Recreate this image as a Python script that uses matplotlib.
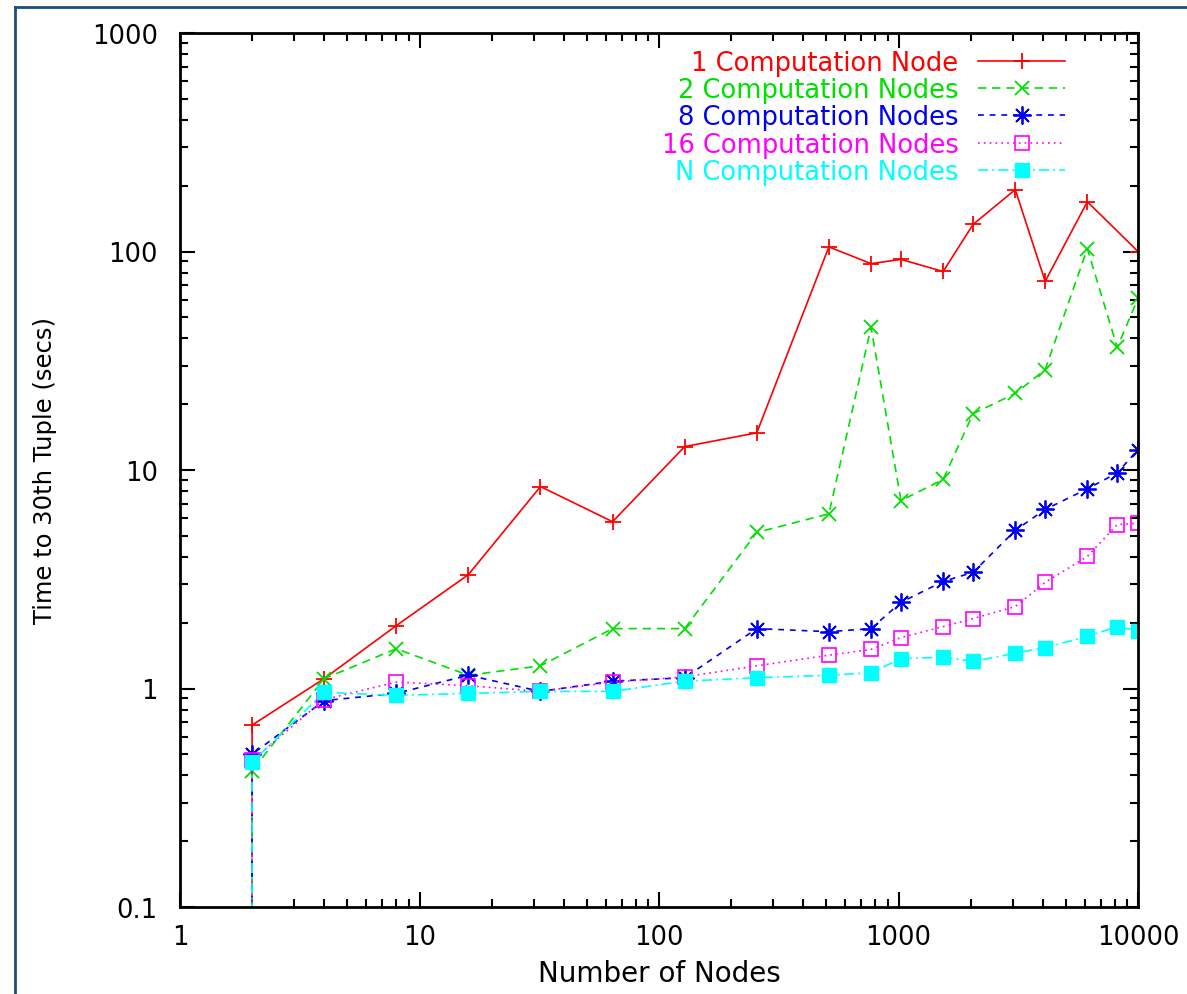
import matplotlib
matplotlib.use("Agg")
import matplotlib.pyplot as plt
from matplotlib.lines import Line2D
from matplotlib.ticker import FixedLocator, FixedFormatter, LogLocator, NullFormatter

# ---- data ----
nodes = [2, 2, 4, 8, 16, 32, 64, 128, 256, 512, 768, 1024, 1536, 2048, 3072, 4096, 6144, 8192, 10000]

one_node = [0.0, 0.68, 1.11, 1.94, 3.32, 8.4, 5.8, 12.8, 14.8, 105, 88, 92, 81, 133, 192, 73, 169, None, 100]
two_nodes = [0.0, 0.42, 1.11, 1.52, 1.15, 1.27, 1.88, 1.88, 5.18, 6.3, 45, 7.25, 9.05, 18.1, 22.4, 28.8, 103, 36.4, 61]
eight_nodes = [0.0, 0.50, 0.88, 0.95, 1.15, 0.97, 1.08, 1.12, 1.88, 1.82, 1.88, 2.48, 3.09, 3.40, 5.29, 6.6, 8.2, 9.7, 12.4]
sixteen_nodes = [0.0, 0.47, 0.89, 1.07, 1.03, 0.97, 1.07, 1.13, 1.27, 1.42, 1.51, 1.71, 1.92, 2.09, 2.37, 3.06, 4.02, 5.63, 5.7]
n_nodes = [0.0, 0.46, 0.96, 0.93, 0.95, 0.97, 0.97, 1.08, 1.12, 1.15, 1.18, 1.37, 1.39, 1.33, 1.45, 1.54, 1.73, 1.92, 1.84]

labels = ["1 Computation Node", "2 Computation Nodes", "8 Computation Nodes",
          "16 Computation Nodes", "N Computation Nodes"]

x_ticks = [1, 10, 100, 1000, 10000]
x_ticklabels = ["1", "10", "100", "1000", "10000"]
y_ticks = [0.1, 1, 10, 100, 1000]
y_ticklabels = ["0.1", "1", "10", "100", "1000"]

# ---- figure ----
plt.rcParams['font.family'] = ['DejaVu Sans']
fig = plt.figure(figsize=(11.87, 9.95), dpi=100)
ax = fig.add_axes([180/1187, 87/995, (1138-180)/1187, (908-34)/995])

def series(xs, ys):
    px, py = [], []
    for a, b in zip(xs, ys):
        if b is None:
            continue
        px.append(a); py.append(b)
    return px, py

styles = [
    dict(color='#ff0000', ls='-', marker='+', ms=12, mew=1.3, mfc='none'),
    dict(color='#00e000', ls=(0, (5, 3.5)), marker='x', ms=10, mew=1.3, mfc='none'),
    dict(color='#0000f0', ls=(0, (3.5, 3.5)), marker=(8, 2, 0), ms=13, mew=1.3, mfc='none'),
    dict(color='#ff00ff', ls=(0, (1, 2.5)), marker='s', ms=10, mew=1.2, mfc='none'),
    dict(color='#00ffff', ls=(0, (6, 2.5, 1.2, 2.5)), marker='s', ms=10, mew=1.0),
]
data = [one_node, two_nodes, eight_nodes, sixteen_nodes, n_nodes]

handles = []
for ys, st, lab in zip(data, styles, labels):
    px, py = series(nodes, ys)
    h, = ax.plot(px, py, lw=1.2, label=lab, **st)
    handles.append(h)

ax.set_xscale('log', nonpositive='clip')
ax.set_yscale('log', nonpositive='clip')
ax.set_xlim(1, 10000)
ax.set_ylim(0.1, 1000)

ax.xaxis.set_major_locator(FixedLocator(x_ticks))
ax.xaxis.set_major_formatter(FixedFormatter(x_ticklabels))
ax.yaxis.set_major_locator(FixedLocator(y_ticks))
ax.yaxis.set_major_formatter(FixedFormatter(y_ticklabels))
ax.xaxis.set_minor_locator(LogLocator(base=10, subs=range(2, 10)))
ax.yaxis.set_minor_locator(LogLocator(base=10, subs=range(2, 10)))
ax.xaxis.set_minor_formatter(NullFormatter())
ax.yaxis.set_minor_formatter(NullFormatter())

ax.tick_params(which='both', direction='in', top=True, right=True, width=1.5, colors='black')
ax.tick_params(which='major', length=11, labelsize=18.5)
ax.tick_params(axis='x', which='major', pad=12)
ax.tick_params(axis='y', which='major', pad=16)
ax.tick_params(which='minor', length=6)
for s in ax.spines.values():
    s.set_linewidth(2)

ax.set_xlabel("Number of Nodes", fontsize=20, labelpad=7)
ax.set_ylabel("Time to 30th Tuple (secs)", fontsize=17.5, labelpad=25)

leg = ax.legend(handles=handles, loc='upper right', bbox_to_anchor=(0.9415, 1.0),
                frameon=False, markerfirst=False, labelcolor='linecolor',
                fontsize=18.5, handlelength=3.4, handletextpad=0.75,
                labelspacing=0.05, borderaxespad=0.25, numpoints=1)
for t in leg.get_texts():
    t.set_ha('right')

# figure border (top and left lines)
fig.add_artist(Line2D([15/1187, 15/1187], [0, 1 - 8/995], transform=fig.transFigure,
                      color='#1f4e79', lw=2))
fig.add_artist(Line2D([15/1187, 1], [1 - 8/995, 1 - 8/995], transform=fig.transFigure,
                      color='#1f4e79', lw=2))

fig.savefig("out.png", dpi=100)
